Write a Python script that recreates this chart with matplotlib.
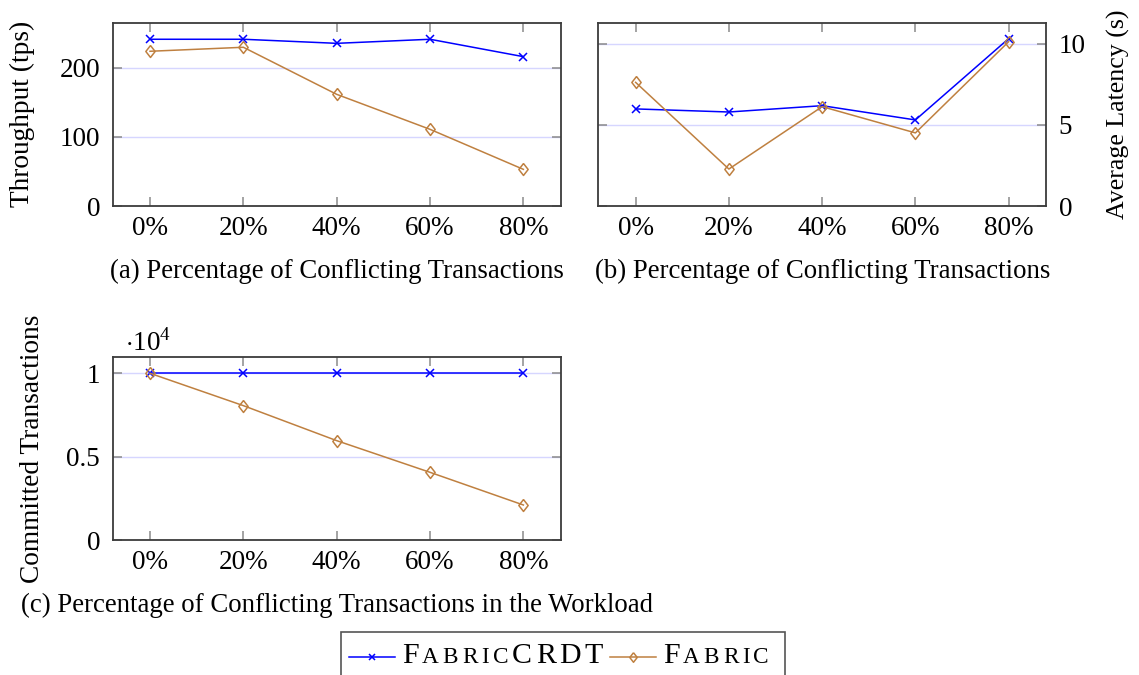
import numpy as np
import matplotlib
matplotlib.use("Agg")
import matplotlib.pyplot as plt
from matplotlib.ticker import FuncFormatter
from matplotlib.lines import Line2D
from matplotlib.patches import Rectangle
from matplotlib.offsetbox import (AnchoredOffsetbox, DrawingArea, HPacker,
                                  TextArea)

# =========================
# Data
# =========================
CONFLICT_PCT = ["0%", "20%", "40%", "60%", "80%"]

THROUGHPUT_CRDT = [241.6, 241.6, 235.7, 241.6, 216.4]
THROUGHPUT_FABRIC = [224.2, 230.0, 161.8, 111.1, 53.1]

LATENCY_CRDT = [5.99, 5.80, 6.19, 5.31, 10.33]
LATENCY_FABRIC = [7.63, 2.28, 6.13, 4.51, 10.14]

COMMITTED_CRDT = [10000, 10000, 10000, 10000, 10000]
COMMITTED_FABRIC = [10000, 8060, 5960, 4060, 2100]

# =========================
# Style
# =========================
W, H = 1139, 675
FONT = "Liberation Serif"
BLUE = "#0000ff"
BROWN = "#bf8040"
GRID = "#d6d6ff"
FRAME = "#3c3c3c"
TICK = "#8a8a8a"
TICK_FS = 19.5
LABEL_FS = 19.7
CAPTION_FS = 19.3
CROSS_MS = 5.6
DIAMOND_MS = 8.6
DIAMOND = [(0, 1), (0.78, 0), (0, -1), (-0.78, 0), (0, 1)]

plt.rcParams["font.family"] = [FONT, "DejaVu Serif"]
plt.rcParams["mathtext.fontset"] = "custom"
plt.rcParams["mathtext.rm"] = FONT


def px_axes(fig, left, top, right, bottom):
    """Axes placed by pixel box (y measured from the top)."""
    return fig.add_axes([left / W, 1 - bottom / H,
                         (right - left) / W, (bottom - top) / H])


def style_axes(ax, ylim, yticks):
    ax.set_xlim(-0.4, 4.4)
    ax.set_ylim(*ylim)
    ax.set_yticks(yticks)
    ax.yaxis.grid(True, color=GRID, lw=1.0, zorder=0)
    ax.set_axisbelow(True)
    for sp in ax.spines.values():
        sp.set_color(FRAME)
        sp.set_linewidth(1.3)
    ax.tick_params(direction="in", length=6.5, width=1.1, color=TICK,
                   top=True, right=True, labelsize=TICK_FS)
    ax.tick_params(axis="x", pad=7.5)
    ax.tick_params(axis="y", pad=9)


def plot_pair(ax, crdt, fabric):
    ax.plot(CONFLICT_PCT, crdt, color=BLUE, lw=1.1, marker="x",
            ms=CROSS_MS, mew=1.1, zorder=3)
    ax.plot(CONFLICT_PCT, fabric, color=BROWN, lw=1.1, marker=DIAMOND,
            ms=DIAMOND_MS, mew=1.1, mfc="none", zorder=4)


def small_caps(word, big_n_head, big_tail, size, ratio=0.78):
    """Letters of a small-caps word as separate text areas."""
    parts = []
    for i, ch in enumerate(word):
        big = i < big_n_head or i >= len(word) - big_tail
        fs = size if big else size * ratio
        parts.append(TextArea(ch.upper(), textprops=dict(
            fontsize=fs, family=FONT, color="black")))
    return HPacker(children=parts, align="baseline", pad=0, sep=2.7)


def legend_handle(color, marker, ms):
    da = DrawingArea(33, 18, 0, 3)
    da.add_artist(Line2D([0, 33], [4.8, 4.8], color=color, lw=1.1))
    da.add_artist(Line2D([16.5], [4.8], color=color, marker=marker, ms=ms,
                         mew=1.1, mfc="none"))
    return da


def main():
    fig = plt.figure(figsize=(W / 100, H / 100), dpi=100)

    # (a) throughput
    ax_a = px_axes(fig, 112.7, 22.7, 560.7, 206)
    plot_pair(ax_a, THROUGHPUT_CRDT, THROUGHPUT_FABRIC)
    style_axes(ax_a, (0, 265.6), [0, 100, 200])
    ax_a.set_ylabel("Throughput (tps)", fontsize=LABEL_FS)
    ax_a.yaxis.set_label_coords(-0.174, 0.5)

    # (b) latency, axis on the right
    ax_b = px_axes(fig, 598.3, 22.7, 1046, 206)
    plot_pair(ax_b, LATENCY_CRDT, LATENCY_FABRIC)
    style_axes(ax_b, (0, 11.31), [0, 5, 10])
    ax_b.tick_params(axis="y", labelleft=False, labelright=True)
    ax_b.yaxis.set_label_position("right")
    ax_b.set_ylabel("Average Latency (s)", fontsize=18.6)
    ax_b.yaxis.set_label_coords(1.137, 0.5)

    # (c) committed transactions
    ax_c = px_axes(fig, 112.7, 357.3, 560.7, 540)
    plot_pair(ax_c, COMMITTED_CRDT, COMMITTED_FABRIC)
    style_axes(ax_c, (0, 10960), [0, 5000, 10000])
    ax_c.yaxis.set_major_formatter(FuncFormatter(lambda v, p: f"{v / 1e4:g}"))
    ax_c.set_ylabel("Committed Transactions", fontsize=LABEL_FS)
    ax_c.yaxis.set_label_coords(-0.151, 0.5)
    fig.text(125 / W, 1 - 350.7 / H, r"$\cdot\mathrm{10}^{4}$",
             fontsize=TICK_FS, ha="left", va="baseline")

    # sub-captions
    captions = [
        (336.7, 277.7, "(a) Percentage of Conflicting Transactions"),
        (822.2, 277.7, "(b) Percentage of Conflicting Transactions"),
        (336.7, 611.7,
         "(c) Percentage of Conflicting Transactions in the Workload"),
    ]
    for x, y, txt in captions:
        fig.text(x / W, 1 - y / H, txt, fontsize=CAPTION_FS,
                 ha="center", va="baseline")

    # shared legend with small-caps entries
    fig.add_artist(Rectangle((341 / W, -0.1), (785 - 341) / W,
                             1 - 632 / H + 0.1, transform=fig.transFigure,
                             fill=False, ec="#555555", lw=1.2))
    entries = HPacker(children=[
        legend_handle(BLUE, "x", CROSS_MS * 0.8),
        small_caps("FabricCRDT", 1, 4, 21.5),
        legend_handle(BROWN, DIAMOND, DIAMOND_MS * 0.8),
        small_caps("Fabric", 1, 0, 21.5),
    ], align="baseline", pad=0, sep=5)
    box = AnchoredOffsetbox(loc="center left", child=entries, pad=0,
                            borderpad=0, frameon=False,
                            bbox_to_anchor=(349 / W, 1 - 656 / H),
                            bbox_transform=fig.transFigure)
    fig.add_artist(box)

    fig.savefig("out.png", dpi=100)


if __name__ == "__main__":
    main()
